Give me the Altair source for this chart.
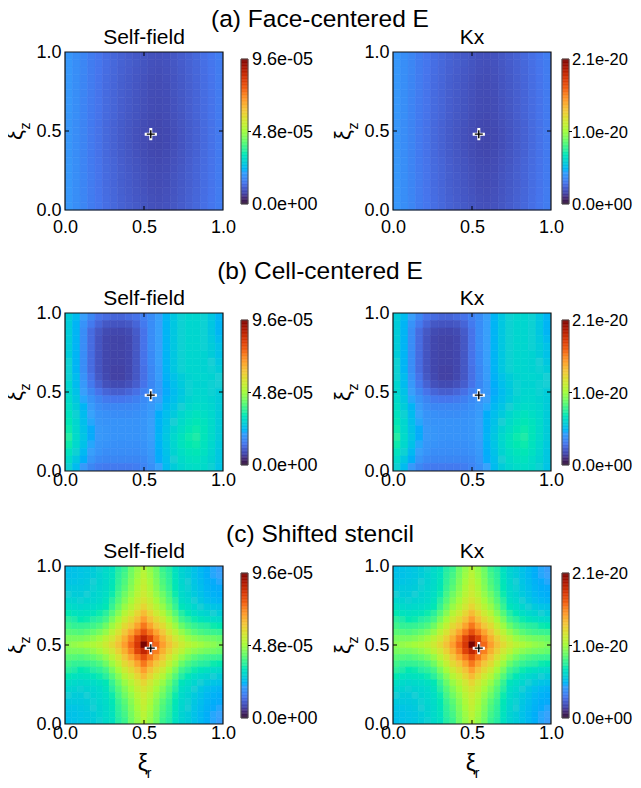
import altair as alt
import pandas as pd

FONT = "Liberation Sans"
TURBO = ["#30123b","#4145ab","#4675ed","#39a2fc","#1bcfd4","#24eca6","#61fc6c","#a4fc3b",
         "#d1e834","#f3c63a","#fe9b2d","#f36315","#d93806","#b11901","#7a0402"]
STOPS = [0,7.143,14.286,21.429,28.571,35.714,42.857,50,57.143,64.286,71.429,78.571,85.714,92.857,100]
BAR_LEVELS = list(range(0,100))

# values, percent of the colour-bar range; rows run from z=1 down to z=0
A16=[19.6,18.2,16.8,15.4,14.3,13.2,12.3,11.5,10.8,10.2,9.6,9.1,9.0,9.3,10,10.8,11.6,12.5,13.5,14.5,15.5]
A14=[19.6,18.2,16.8,15.4,14.4,13.3,12.4,11.5,10.9,10.3,9.6,9.0,8.8,9.2,9.9,10.7,11.5,12.4,13.4,14.4,15.4]
A12=[19.6,18.2,16.8,15.4,14.3,13.2,12.3,11.4,10.7,10.1,9.4,8.8,8.6,9.0,9.7,10.5,11.4,12.3,13.3,14.3,15.4]
A10=[19.6,18.1,16.7,15.3,14.2,13.0,12.1,11.2,10.5,9.9,9.2,8.6,8.4,8.8,9.5,10.3,11.2,12.1,13.2,14.2,15.3]
A08=[19.6,18.1,16.7,15.3,14.1,12.9,12.0,11.1,10.4,9.8,9.0,8.4,8.2,8.6,9.4,10.2,11.1,12.0,13.1,14.1,15.2]
A06=[19.6,18.1,16.6,15.2,14.1,12.8,11.9,11.0,10.2,9.6,8.8,8.2,8.0,8.4,9.2,10.0,11.0,11.9,13.0,14.0,15.2]
A04=[19.5,18.1,16.6,15.1,14.0,12.7,11.8,10.8,10.0,9.4,8.6,8.0,7.8,8.2,9.0,9.8,10.8,11.8,12.9,14.0,15.1]
A02=[19.5,18.0,16.5,15.1,13.9,12.6,11.6,10.6,9.9,9.2,8.4,7.8,7.6,8.0,8.8,9.7,10.6,11.6,12.8,13.9,15.1]
A00=[19.5,18.0,16.5,15.0,13.8,12.5,11.5,10.5,9.7,9.0,8.2,7.6,7.4,7.8,8.6,9.5,10.5,11.5,12.7,13.8,15.0]
GRID_A=[A16,A14,A12,A10,A08,A08,A06,A06,A04,A02,A00,A00,A00,A02,A04,A06,A08,A08,A10,A12,A14]

GRID_B=[
[28,25,21,17,14,13,12,12,13,14,16,18,21,24,27,29,30,30,29,27,24],
[28,24,19,15,12,10,9.5,9.5,10,12,15,18,21,24,27,29,30,30,29,27,24],
[28,24,18,13,10,8,7.5,7.5,8,10.5,14,18,21,24,27,29,30,30,29,27,24],
[28,24,18,13,9.5,7.5,7,7,7.5,10,14,18,21,24,27,29,30,30,29,27.5,25],
[28,24,18,13,9.5,7.5,7,7,7.5,10,14,18,21,24,27,29,30,30,29,28,26],
[28,24,18,13,9.5,7.5,7,7,7.5,10,14,17.5,21,24,27,29,30,30,29.5,28,26],
[29,24,18,13,9.5,7.5,7,7,7.5,10,14,17.5,21,24,27,29,30,30,29.5,28.5,27],
[29,24,18,13,9.5,7.5,6.8,6.8,7.5,10,13.5,17,20.5,24,27,29,30,30,29.5,29,28],
[29,25,19,14,10,7.8,6.8,6.8,7.6,10,13.5,17,20.5,23.5,26,28,29.5,30,30,29.5,28.5],
[30,25,20,15,11.5,9,8,8,9,11,14,17,20,23,25.5,27.5,29,29.5,29.5,29,28.5],
[30,26,21,17,14,12,11,11,12,13.5,16,18,20,22.5,25,27,29,30,30,29,28],
[31,27,22,19,16.5,15,14.5,14.5,15,16,17.5,19,21,23.5,25.5,27.5,29.5,30.5,30.5,29.5,28],
[32,28,24,20.5,18,17,17,17,17,17.5,18.5,20,22,24.5,26.5,28.5,30.5,31.5,31,30,28],
[33,29,25,21.5,19,18.5,18,18,18,18.5,19,20.5,23,25.5,27.5,30,32,33,32,30.5,28],
[34,30,25.5,22,19.5,19,19,19,19,19,19.5,21,23.5,26,28.5,31,33,34,33,31,28],
[35,30.5,26,22.5,20,19.5,19,19,19,19,19.5,21,23.5,26.5,29.5,32,34,35,33.5,31,28],
[36,31,26.5,22.5,20,19.5,19,19,19,19,19.5,21,24,27,30.5,33,35,35.5,33.5,31,28],
[35,30.5,26,22,19.5,19,18.5,18.5,18.5,18.5,19,20.5,23.5,26.5,30,33,34.5,35,33,30.5,27.5],
[33,29,24.5,21,19,18,18,18,18,18,18.5,20,23,26,29.5,32,33.5,34,32.5,30,27],
[31,27,23,19.5,17.5,17,17,17,17,17,17.5,19.5,22.5,25.5,28.5,31,32.5,33,31.5,29.5,27],
[29,25,20,17,15.5,15,15,15,15,15.5,16.5,18.5,21.5,25,28,30,31.5,32,31,29,26.5],
]

C0=[47,48,49,50,51,53,56,60,65,71,78,86,100,86,78,71,65,60,56,53,51,49.5,48,47,45.5]
C1=[45,45,45,46,47.5,49.5,53,57,62,68,75,84,90,84,75,68,62,57,53,49,47,45.5,44.5,44,43]
C2=[42,41.5,41,42,43,45,48,53,58,64,70,76,82,76,70,64,58,53,48,44.5,42,40.5,39.5,39,38.5]
C3=[39.5,38,38,38.5,39.5,41,44,49,54,60,64,70,76,70,64,60,54,49,43.5,40.5,38.5,37,36,35,34.5]
C4=[37,35.5,34.5,35,36,37.5,40,45,50,56,60,65,71,65,60,56,50,45,39.5,37,35,33.5,32.5,31.5,31]
C5=[34.5,33,32.5,33,33.5,35,37,41.5,46.5,52,56,61,66,61,56,52,46.5,41.5,36,34,32,30.5,29.5,28.5,28]
C6=[32,31,30.5,31,31.5,32.5,34,38.5,43.5,48.5,52.5,57,61,57,52.5,48.5,43.5,38.5,33.5,32,30,28.5,27.5,26.5,26]
C7=[30,29.5,29,29.5,30,31,33,36.5,41.5,46,50,54.5,58,54.5,50,46,41.5,36.5,32,30.5,28.5,27,25.5,24.5,24]
C8=[28.5,28,28,28.5,29.5,30.5,32,35,40,44,48,52.5,56,52.5,48,44,40,35,31,29.5,27.5,26,24.5,23.5,23]
C9=[27.5,27.5,27.5,28,29,30,31.5,34,38.5,42,46.5,51,55,51,46.5,42,38.5,34,30.5,29,27,25.5,24,23,22.5]
C10=[26.5,26.5,27,27.5,28.5,29.5,31,33.5,37.5,41,45.5,50,54,50,45.5,41,37.5,33.5,30,28.5,26.5,25,23.5,22.5,22]
C11=[26,26,26.5,27,28,29.5,31,33,37,40,44.5,49,53,49,44.5,40,37,33,29.5,28,26,24.5,23,22,21.5]
C12=[25.5,26,26.5,27,28,29,31,32.5,36,39,44,48,52,48,44,39,36,32.5,29.5,28,26,24.5,23,22,21]
GRID_C=[C12,C11,C10,C9,C8,C7,C6,C5,C4,C3,C2,C1,C0,C1,C2,C3,C4,C5,C6,C7,C8,C9,C10,C11,C12]

MARK_R=[0.543]
MARK_Z=[0.48]
SELF_LABELS=["0.0e+00","4.8e-05","9.6e-05"]
KX_LABELS=["0.0e+00","1.0e-20","2.1e-20"]
BAR_TICKS=[0,50,100]
AXIS_TICKS=[0,0.5,1]

W=158
color_scale=alt.Scale(domain=STOPS,range=TURBO,clamp=True)
sx=alt.Scale(domain=[0,1],nice=False,zero=False)
sy=alt.Scale(domain=[0,1],nice=False,zero=False,range=[W,0])
ax=alt.Axis(values=AXIS_TICKS,format=".1f",tickSize=0,domain=False,grid=False,title=None,labelPadding=0,labelFontSize=18,labelFont=FONT,labelColor="black",labelFlush=False,labelOverlap=False)
ay=alt.Axis(values=AXIS_TICKS,format=".1f",tickSize=0,domain=False,grid=False,title=None,labelPadding=4,labelFontSize=18,labelFont=FONT,labelColor="black",labelOverlap=False)

def cells(grid):
    n=len(grid)
    rows=[]
    for j,row in enumerate(grid):
        for i,v in enumerate(row):
            rows.append(dict(x0=i/n,x1=(i+1)/n,y0=1-(j+1)/n,y1=1-j/n,v=v))
    return pd.DataFrame(rows)

def text_one(s,x,y,size,angle=0):
    return alt.Chart(pd.DataFrame({"t":[s]})).mark_text(font=FONT,fontSize=size,angle=angle,color="black",align="center",baseline="middle").encode(
        text="t:N",x=alt.value(x),y=alt.value(y))

def heat(grid,title,xlabel,section,sec_y,h):
    base=alt.Chart(cells(grid)).mark_rect(strokeWidth=0.6,clip=True).encode(
        x=alt.X("x0:Q",scale=sx,axis=ax),x2="x1:Q",
        y=alt.Y("y0:Q",scale=sy,axis=ay),y2="y1:Q",
        color=alt.Color("v:Q",scale=color_scale,legend=None),
        stroke=alt.Color("v:Q",scale=color_scale,legend=None))
    mid=pd.DataFrame({"m":[0.5]})
    tb=alt.Chart(mid).mark_rule(color="black",strokeWidth=1)
    ticks=[tb.encode(x=alt.X("m:Q",scale=sx,axis=ax),y=alt.value(W),y2=alt.value(W-4)),
           tb.encode(x=alt.X("m:Q",scale=sx,axis=ax),y=alt.value(0),y2=alt.value(4)),
           tb.encode(y=alt.Y("m:Q",scale=sy,axis=ay),x=alt.value(0),x2=alt.value(4)),
           tb.encode(y=alt.Y("m:Q",scale=sy,axis=ay),x=alt.value(W),x2=alt.value(W-4))]
    frame=alt.Chart(mid).mark_rect(filled=False,stroke="#111111",strokeWidth=1.2).encode(
        x=alt.value(0),x2=alt.value(W),y=alt.value(0),y2=alt.value(W))
    pts=pd.DataFrame({"r":MARK_R,"z":MARK_Z})
    plus="M-1 0H1M0 -1V1"
    m1=alt.Chart(pts).mark_point(shape=plus,size=150,stroke="white",strokeWidth=3,filled=False,opacity=1).encode(
        x=alt.X("r:Q",scale=sx,axis=ax),y=alt.Y("z:Q",scale=sy,axis=ay))
    m2=alt.Chart(pts).mark_point(shape=plus,size=64,stroke="black",strokeWidth=1.4,filled=False,opacity=1).encode(
        x=alt.X("r:Q",scale=sx,axis=ax),y=alt.Y("z:Q",scale=sy,axis=ay))
    layers=[base]+ticks+[frame,m1,m2,
        text_one("ξ",-50,83,22,270),text_one("z",-39,74,14,270),
        text_one(title,79,-14,21)]
    if xlabel:
        layers+=[text_one("ξ",78,W+40,23),text_one("r",84,W+50,14)]
    if section:
        layers+=[text_one(section,255,sec_y,24.5)]
    return alt.layer(*layers).properties(width=W,height=h)

def bar(labels,gap,w,total,h,lab_gap,lab_size):
    lv=pd.DataFrame({"a":BAR_LEVELS})
    lv["b"]=lv["a"]+1
    yscale=alt.Scale(domain=[0,100],range=[152,7],nice=False,zero=False)
    ramp=alt.Chart(lv).mark_rect(strokeWidth=0.5).encode(
        x=alt.value(gap),x2=alt.value(w),
        y=alt.Y("a:Q",scale=yscale,axis=None),
        y2="b:Q",
        color=alt.Color("a:Q",scale=color_scale,legend=None),
        stroke=alt.Color("a:Q",scale=color_scale,legend=None))
    one=pd.DataFrame({"a":[0],"b":[100]})
    frame=alt.Chart(one).mark_rect(filled=False,stroke="#555555",strokeWidth=1).encode(
        x=alt.value(gap),x2=alt.value(w),y=alt.Y("a:Q",scale=yscale,axis=None),y2="b:Q")
    tk=alt.Chart(pd.DataFrame({"a":[50]})).mark_rule(color="black",strokeWidth=1).encode(
        x=alt.value(w),x2=alt.value(w+3),y=alt.Y("a:Q",scale=yscale,axis=None))
    labs=alt.Chart(pd.DataFrame({"a":BAR_TICKS,"l":labels})).mark_text(font=FONT,fontSize=lab_size,align="left",baseline="middle",color="black",dy=1).encode(
        x=alt.value(w+lab_gap),y=alt.Y("a:Q",scale=yscale,axis=None),text="l:N")
    return alt.layer(ramp,frame,tk,labs).properties(width=total,height=h)

panels=[]
for grid,sec,sy_,xl,h in [(GRID_A,"(a) Face-centered E",-32,False,166),
                          (GRID_B,"(b) Cell-centered E",-41,False,158),
                          (GRID_C,"(c) Shifted stencil",-31,True,158)]:
    panels+=[heat(grid,"Self-field",xl,sec,sy_,h),bar(SELF_LABELS,18,25,170,h,4,18),
             heat(grid,"Kx",xl,None,None,h),bar(KX_LABELS,11,18,82,h,3,16.5)]

chart=alt.concat(*panels,columns=4,spacing=alt.RowColnumber(row=95,column=0),bounds="flush"
).properties(padding={"left":-4,"top":-1,"right":0,"bottom":-2}).configure_view(stroke=None)

chart.save("out.html",embed_options={"renderer":"svg","actions":False})
